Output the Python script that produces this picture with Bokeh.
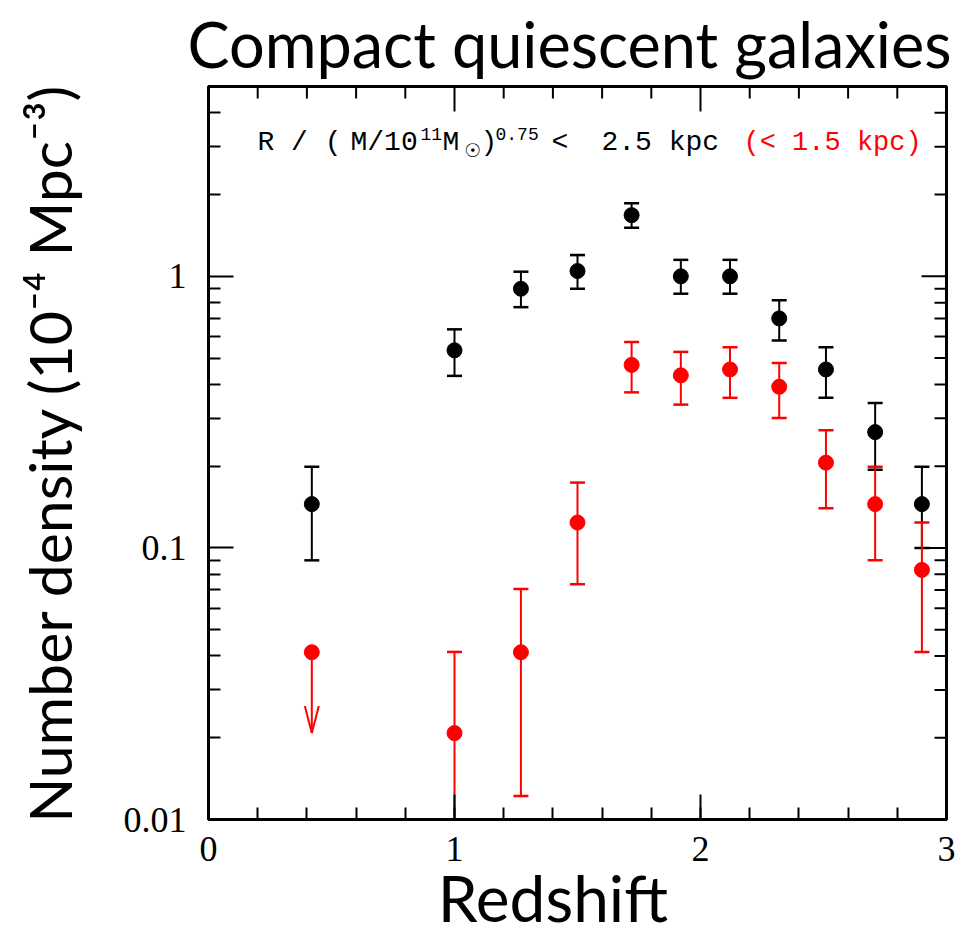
import math
from bokeh.plotting import figure
from bokeh.models import (FixedTicker, Label, CustomJSTickFormatter, Range1d, ColumnDataSource)
from bokeh.embed import file_html
from bokeh.resources import INLINE

# ---------------- data ----------------
# R/(M/1e11)^0.75 < 2.5 kpc (black)
redshift_25 = [0.42, 1.00, 1.27, 1.50, 1.72, 1.92, 2.12, 2.32, 2.51, 2.71, 2.90]
dens_25 = [0.145, 0.534, 0.90, 1.046, 1.68, 1.00, 1.00, 0.70, 0.454, 0.267, 0.145]
dens_25_hi = [0.199, 0.638, 1.04, 1.197, 1.86, 1.15, 1.15, 0.816, 0.548, 0.342, 0.199]
dens_25_lo = [0.090, 0.430, 0.77, 0.900, 1.51, 0.863, 0.863, 0.58, 0.357, 0.194, 0.100]

# < 1.5 kpc (red)
redshift_15 = [1.00, 1.27, 1.50, 1.72, 1.92, 2.12, 2.32, 2.51, 2.71, 2.90]
dens_15 = [0.0208, 0.0413, 0.124, 0.472, 0.432, 0.454, 0.392, 0.206, 0.145, 0.083]
dens_15_hi = [0.0414, 0.0706, 0.174, 0.573, 0.527, 0.548, 0.480, 0.271, 0.199, 0.124]
dens_15_lo = [0.005, 0.0122, 0.0735, 0.374, 0.337, 0.357, 0.301, 0.140, 0.090, 0.0414]

# upper limit (red, arrow)
limit_z = [0.42]
limit_val = [0.0413]
limit_tip = [0.0208]

x_ticks = [0, 1, 2, 3]
x_tick_labels = ["0", "1", "2", "3"]
y_ticks = [0.01, 0.1, 1]
y_tick_labels = ["0.01", "0.1", "1"]

title_text = "Compact quiescent galaxies"
x_label = "Redshift"
y_label = "Number density (10\u207b\u2074 Mpc\u207b\u00b3)"

# ---------------- layout ----------------
W, H = 956, 938
FL, FR, FT, FB = 208, 946, 86, 819
XMIN, XMAX = 0.0, 3.0
YMIN, YMAX = 0.01, 5.0
L0, L1 = math.log10(YMIN), math.log10(YMAX)


def xd(px):
    return XMIN + (px - FL) / (FR - FL) * (XMAX - XMIN)


def yd(py):
    return 10 ** (L1 - (py - FT) / (FB - FT) * (L1 - L0))


SANS = "Lato"
MONO = "Liberation Mono"
RED = "#ff0000"

p = figure(width=W, height=H, x_range=Range1d(XMIN, XMAX), y_range=Range1d(YMIN, YMAX),
           y_axis_type="log", output_backend="svg", toolbar_location=None,
           title=title_text,
           min_border_left=FL, min_border_right=W - FR,
           min_border_top=FT, min_border_bottom=H - FB)
p.xgrid.visible = False
p.ygrid.visible = False
p.outline_line_color = "black"
p.outline_line_width = 3
p.background_fill_color = "white"
p.border_fill_color = "white"

p.title.text_font = SANS
p.title.text_font_style = "normal"
p.title.text_font_size = "63px"
p.title.text_color = "black"
p.title.align = "left"
p.title.offset = -21
p.title.vertical_align = "top"
p.title.standoff = 8

major_x_minor = [i * 0.2 for i in range(16)]
minor_y = [k * 10.0 ** e for e in (-2, -1, 0) for k in range(2, 10)]
xt = FixedTicker(ticks=x_ticks, minor_ticks=major_x_minor)
yt = FixedTicker(ticks=y_ticks, minor_ticks=minor_y)

fmt_code = "const i = tvals.indexOf(tick); return i >= 0 ? tlabels[i] : '';"
xfmt = CustomJSTickFormatter(args=dict(tvals=x_ticks, tlabels=x_tick_labels), code=fmt_code)
yfmt = CustomJSTickFormatter(args=dict(tvals=y_ticks, tlabels=y_tick_labels), code=fmt_code)

MAJ, MIN = 25, 12


def style(ax):
    ax.axis_line_width = 3
    ax.axis_line_color = "black"
    ax.major_tick_in = MAJ
    ax.major_tick_out = 0
    ax.minor_tick_in = MIN
    ax.minor_tick_out = 0
    ax.major_tick_line_width = 2
    ax.minor_tick_line_width = 2
    ax.major_tick_line_color = "black"
    ax.minor_tick_line_color = "black"
    ax.major_label_text_font = "Liberation Serif"
    ax.major_label_text_color = "black"
    ax.major_label_text_font_size = "36px"
    ax.axis_label_text_font = SANS
    ax.axis_label_text_font_style = "normal"
    ax.axis_label_text_color = "black"


xa = p.xaxis[0]
xa.ticker = xt
xa.formatter = xfmt
style(xa)
xa.major_label_standoff = 17
xa.axis_label = x_label + "\u00a0\u00a0\u00a0"
xa.axis_label_text_font_size = "64px"
xa.axis_label_standoff = -5

ya = p.yaxis[0]
ya.ticker = yt
ya.formatter = yfmt
style(ya)
ya.major_label_standoff = 22
ya.axis_label = y_label
ya.axis_label_text_font_size = "59px"
ya.axis_label_standoff = 36

# mirrored ticks on top and right edges (inward)
dy_maj = 10 ** (MAJ / (FB - FT) * (L1 - L0))
dy_min = 10 ** (MIN / (FB - FT) * (L1 - L0))
dx_maj = MAJ / (FR - FL) * (XMAX - XMIN)
dx_min = MIN / (FR - FL) * (XMAX - XMIN)
tx_maj = [t for t in x_ticks if XMIN < t < XMAX]
tx_min = [t for t in major_x_minor if XMIN < t < XMAX and all(abs(t - m) > 1e-9 for m in x_ticks)]
ty_maj = [t for t in y_ticks if YMIN < t < YMAX]
ty_min = [t for t in minor_y if YMIN < t < YMAX]
p.segment(x0=tx_maj, y0=[YMAX] * len(tx_maj), x1=tx_maj, y1=[YMAX / dy_maj] * len(tx_maj),
          line_color="black", line_width=2)
p.segment(x0=tx_min, y0=[YMAX] * len(tx_min), x1=tx_min, y1=[YMAX / dy_min] * len(tx_min),
          line_color="black", line_width=2)
p.segment(x0=[XMAX] * len(ty_maj), y0=ty_maj, x1=[XMAX - dx_maj] * len(ty_maj), y1=ty_maj,
          line_color="black", line_width=2)
p.segment(x0=[XMAX] * len(ty_min), y0=ty_min, x1=[XMAX - dx_min] * len(ty_min), y1=ty_min,
          line_color="black", line_width=2)

# ---------------- black series ----------------
src_b = ColumnDataSource(dict(z=redshift_25, n=dens_25, hi=dens_25_hi, lo=dens_25_lo))
p.segment(x0="z", y0="lo", x1="z", y1="hi", source=src_b, line_color="black", line_width=2)
p.scatter(x="z", y="hi", source=src_b, marker="dash", size=15, line_color="black", line_width=2.5)
p.scatter(x="z", y="lo", source=src_b, marker="dash", size=15, line_color="black", line_width=2.5)
p.scatter(x="z", y="n", source=src_b, marker="circle", size=15,
          fill_color="black", line_color="black")

# ---------------- red series ----------------
src_r = ColumnDataSource(dict(z=redshift_15, n=dens_15, hi=dens_15_hi, lo=dens_15_lo))
p.segment(x0="z", y0="lo", x1="z", y1="hi", source=src_r, line_color=RED, line_width=2)
p.scatter(x="z", y="hi", source=src_r, marker="dash", size=15, line_color=RED, line_width=2.5)
p.scatter(x="z", y="lo", source=src_r, marker="dash", size=15, line_color=RED, line_width=2.5)
p.scatter(x="z", y="n", source=src_r, marker="circle", size=15, fill_color=RED, line_color=RED)

# upper limit with arrow
p.scatter(x=limit_z, y=limit_val, marker="circle", size=15, fill_color=RED, line_color=RED)
p.segment(x0=limit_z, y0=limit_val, x1=limit_z, y1=limit_tip, line_color=RED, line_width=2)
head_dx = 7.0 / (FR - FL) * (XMAX - XMIN)
head_k = 10 ** (27.0 / (FB - FT) * (L1 - L0))
hx0, hy0, hx1, hy1 = [], [], [], []
for z, t in zip(limit_z, limit_tip):
    for s in (-1, 1):
        hx0.append(z + s * head_dx)
        hy0.append(t * head_k)
        hx1.append(z)
        hy1.append(t)
p.segment(x0=hx0, y0=hy0, x1=hx1, y1=hy1, line_color=RED, line_width=2)


# ---------------- annotation inside frame ----------------
def lab(text, px, py, size, font, color="black"):
    p.add_layout(Label(x=xd(px), y=yd(py), text=text, text_font=font,
                       text_font_size=f"{size}px", text_color=color, text_align="left",
                       text_baseline="alphabetic"))


BASE = 142
lab("R / (", 257, BASE, 28, MONO)
lab("M/10", 350, BASE, 28, MONO)
lab("11", 420, BASE - 9, 18, MONO)
lab("M", 442, BASE, 28, MONO)
lab("\u2609", 464, BASE + 7, 19, "DejaVu Sans")
lab(")", 480, BASE, 28, MONO)
lab("0.75", 495, BASE - 9, 18, MONO)
lab("<", 551, BASE, 28, MONO)
lab("2.5 kpc", 601, BASE, 28, MONO)
lab("(< 1.5 kpc)", 743, BASE, 27, MONO, color=RED)

open("out.html", "w").write(file_html(p, INLINE))
